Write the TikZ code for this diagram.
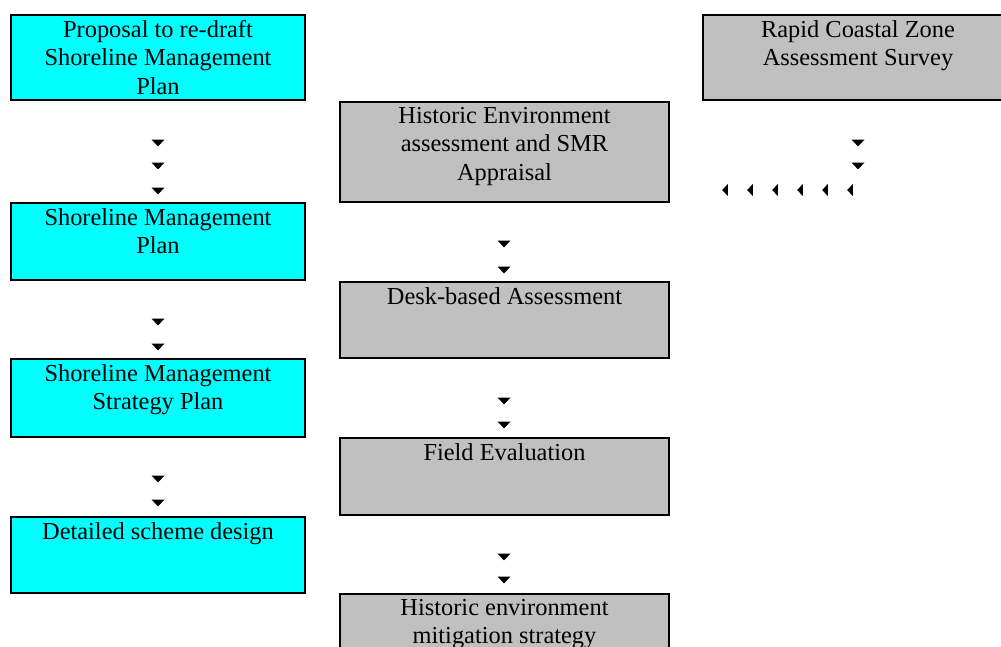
\documentclass[tikz,border=0pt]{standalone}
\usepackage{fontspec}
\setmainfont{Liberation Serif}
\usetikzlibrary{positioning}

\definecolor{boxcyan}{HTML}{00FFFF}
\definecolor{boxgrey}{HTML}{C0C0C0}

\begin{document}
\begin{tikzpicture}[x=1pt,y=-1pt,
    cyanbox/.style={draw, line width=2pt, fill=boxcyan, inner sep=0pt, minimum width=294pt, anchor=north west},
    greybox/.style={draw, line width=2pt, fill=boxgrey, inner sep=0pt, minimum width=329pt, anchor=north west},
    txt/.style={align=center, inner sep=0pt, font=\fontsize{24.4}{28.4}\selectfont},
    dtip/.pic={\fill (-6.5,-3.3) -- (6.5,-3.3) -- (0,3.3) -- cycle;},
    ltip/.pic={\fill (-2.8,0) -- (2.8,-6) -- (2.8,6) -- cycle;}]
    \useasboundingbox (0,0) rectangle (1001,647);

    % left column
    \node[cyanbox, minimum height=85pt] (redraft) at (10,14) {};
    \node[cyanbox, minimum height=77pt] (smp) at (10,202) {};
    \node[cyanbox, minimum height=78pt] (smsp) at (10,358) {};
    \node[cyanbox, minimum height=76pt] (design) at (10,516) {};
    \node[txt, below=6pt of redraft.north] (redraft-t) {Proposal to re-draft\\Shoreline Management\\Plan};
    \node[txt, below=6pt of smp.north] (smp-t) {Shoreline Management\\Plan};
    \node[txt, below=6pt of smsp.north] (smsp-t) {Shoreline Management\\Strategy Plan};
    \node[txt, below=6pt of design.north] (design-t) {Detailed scheme design};

    % middle column
    \node[greybox, minimum height=100pt] (hea) at (339,101) {};
    \node[greybox, minimum height=76pt] (dba) at (339,281) {};
    \node[greybox, minimum height=77pt] (fe) at (339,437) {};
    \node[greybox, minimum height=80pt] (mit) at (339,593) {};
    \node[txt, below=6pt of hea.north] (hea-t) {Historic Environment\\assessment and SMR\\Appraisal};
    \node[txt, below=6pt of dba.north] (dba-t) {Desk-based Assessment};
    \node[txt, below=6pt of fe.north] (fe-t) {Field Evaluation};
    \node[txt, below=6pt of mit.north] (mit-t) {Historic environment\\mitigation strategy};

    % right column
    \node[greybox, minimum width=310pt, minimum height=85pt] (rcz) at (702,14) {};
    \node[txt, below=6pt of rcz.north] (rcz-t) {Rapid Coastal Zone\\Assessment Survey};

    % arrow tips
    \foreach \y in {143,166,191,322,347,479,503}
        \pic at (158,\y) {dtip};
    \foreach \y in {244,270,401,425,557,580}
        \pic at (504,\y) {dtip};
    \foreach \y in {143,166}
        \pic at (858,\y) {dtip};
    \foreach \x in {725,750,775,800,825,850}
        \pic at (\x,190) {ltip};
\end{tikzpicture}
\end{document}
